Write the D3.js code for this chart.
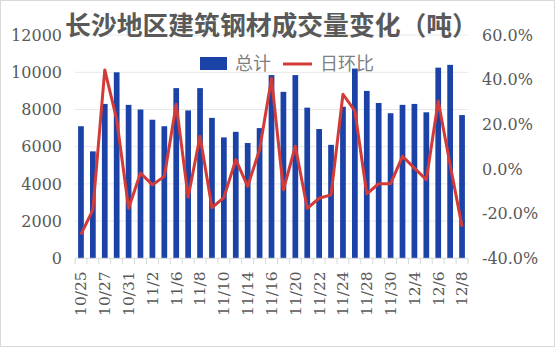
<!DOCTYPE html>
<html><head><meta charset="utf-8">
<script src="https://cdn.jsdelivr.net/npm/d3@7"></script>
<style>body{margin:0;background:#fff}svg{display:block}</style>
</head><body>
<script>
const dates = ["10/25","10/26","10/27","10/28","10/31","11/1","11/2","11/3","11/6","11/7","11/8","11/9","11/10","11/11","11/14","11/15","11/16","11/17","11/20","11/21","11/22","11/23","11/24","11/25","11/28","11/29","11/30","12/1","12/4","12/5","12/6","12/7","12/8"];
const totals = [7100,5750,8300,10000,8250,8000,7450,7100,9150,7950,9150,7550,6500,6800,6200,7000,9850,8950,9850,8100,6950,6100,8150,10200,9000,8350,7800,8250,8300,7850,10250,10400,7700];
const dayChange = [-29.3,-18.3,44.4,22.2,-17.6,-1.8,-7.1,-3.3,29.0,-12.6,14.7,-17.3,-12.8,4.2,-7.8,8.7,40.6,-9.3,10.2,-17.6,-13.1,-11.6,33.5,26.0,-11.1,-6.6,-6.6,5.7,0.4,-4.8,30.5,1.9,-25.8];
const leftTicks = [0,2000,4000,6000,8000,10000,12000];
const rightTicks = [-40,-20,0,20,40,60];
const title = "长沙地区建筑钢材成交量变化（吨）";
const seriesNames = ["总计","日环比"];

const W = 555, H = 347;
const m = {l:75, r:468, t:35.1, b:258.3};
const svg = d3.select("body").append("svg").attr("width",W).attr("height",H);
svg.append("rect").attr("x",0.5).attr("y",0.5).attr("width",W-1).attr("height",H-1)
  .attr("fill","#fff").attr("stroke","#d9d9d9");

const x = d3.scaleBand().domain(dates).range([m.l,m.r]).paddingInner(0).paddingOuter(0);
const yL = d3.scaleLinear().domain([0,12000]).range([m.b,m.t]);
const yR = d3.scaleLinear().domain([-40,60]).range([m.b,m.t]);

const numFont = "'DejaVu Serif', 'Liberation Serif', serif";
const cjk = "'Noto Sans CJK SC', sans-serif";
const gray = "#595959";

// gridlines
svg.append("g").selectAll("line").data(leftTicks.filter(d=>d>0)).join("line")
  .attr("x1",m.l).attr("x2",m.r).attr("y1",d=>yL(d)).attr("y2",d=>yL(d))
  .attr("stroke","#e8e8e8").attr("stroke-width",1);

// bars
const bw = x.bandwidth()*0.48;
svg.append("g").selectAll("rect").data(totals).join("rect")
  .attr("x",(d,i)=>x(dates[i])+x.bandwidth()/2-bw/2)
  .attr("y",d=>yL(d)).attr("width",bw).attr("height",d=>yL(0)-yL(d))
  .attr("fill","#1b42a6");

// x axis line + boundary ticks
svg.append("line").attr("x1",m.l).attr("x2",m.r).attr("y1",m.b).attr("y2",m.b)
  .attr("stroke","#d9d9d9").attr("stroke-width",1);
const bounds = dates.map(d=>x(d)).concat([m.r]);
svg.append("g").selectAll("line").data(bounds).join("line")
  .attr("x1",d=>d).attr("x2",d=>d).attr("y1",m.b).attr("y2",m.b+6)
  .attr("stroke","#d9d9d9");

// x labels
const xAxis = d3.axisBottom(x).tickSize(0).tickFormat((d,i)=> i%2===0 ? d : "");
const gx = svg.append("g").attr("transform",`translate(0,${m.b})`).call(xAxis);
gx.select(".domain").remove();
gx.selectAll("text").attr("font-family",numFont).attr("font-size",15.5).attr("fill",gray)
  .attr("transform","rotate(-90)").attr("text-anchor","end")
  .attr("x",-13).attr("y",0).attr("dy","0.35em");

// left axis
const gl = svg.append("g").attr("transform",`translate(${m.l},0)`)
  .call(d3.axisLeft(yL).tickValues(leftTicks).tickSize(0).tickPadding(13).tickFormat(d3.format("d")));
gl.select(".domain").remove();
gl.selectAll("text").attr("font-family",numFont).attr("font-size",16).attr("fill",gray);

// right axis
const gr = svg.append("g").attr("transform",`translate(${m.r},0)`)
  .call(d3.axisRight(yR).tickValues(rightTicks).tickSize(0).tickPadding(14).tickFormat(d=>d.toFixed(1)+"%"));
gr.select(".domain").remove();
gr.selectAll("text").attr("font-family",numFont).attr("font-size",16).attr("fill",gray);

// line
const line = d3.line().x((d,i)=>x(dates[i])+x.bandwidth()/2).y(d=>yR(d));
svg.append("path").datum(dayChange).attr("d",line).attr("fill","none")
  .attr("stroke","#d23b38").attr("stroke-width",3).attr("stroke-linejoin","round");

// title
svg.append("text").attr("x",271.5).attr("y",35).attr("text-anchor","middle")
  .attr("font-family",cjk).attr("font-weight","bold").attr("font-size",25.8)
  .attr("fill",gray).text(title);

// legend
const lg = svg.append("g");
lg.append("rect").attr("x",200).attr("y",57).attr("width",27).attr("height",13).attr("fill","#1b42a6");
lg.append("text").attr("x",235).attr("y",70).attr("font-family",cjk).attr("font-size",18)
  .attr("fill","#7f7f7f").text(seriesNames[0]);
lg.append("line").attr("x1",283).attr("x2",312).attr("y1",64).attr("y2",64)
  .attr("stroke","#d23b38").attr("stroke-width",3);
lg.append("text").attr("x",320).attr("y",70).attr("font-family",cjk).attr("font-size",18)
  .attr("fill","#7f7f7f").text(seriesNames[1]);
</script>
</body></html>
